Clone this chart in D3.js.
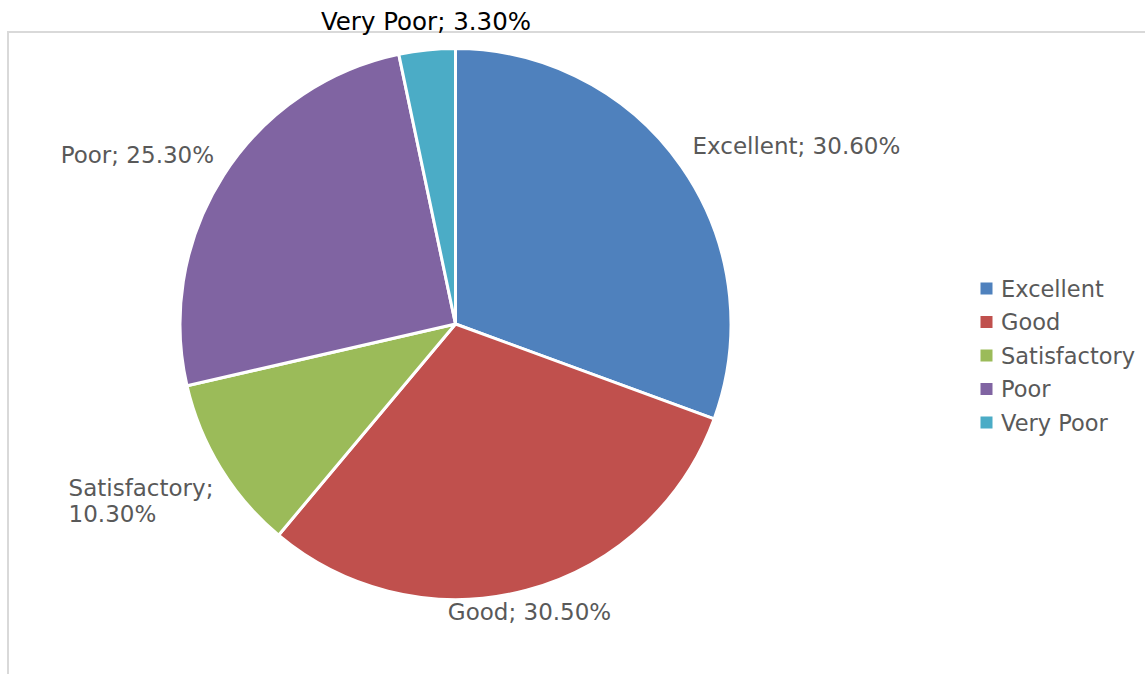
<!DOCTYPE html>
<html>
<head>
<meta charset="utf-8">
<script src="https://cdn.jsdelivr.net/npm/d3@7"></script>
<style>
  html, body { margin: 0; padding: 0; background: #fff; }
  svg { display: block; font-family: "DejaVu Sans", sans-serif; }
</style>
</head>
<body>
<div id="chart"></div>
<script>
const categories = ['Excellent', 'Good', 'Satisfactory', 'Poor', 'Very Poor'];
const values = [30.6, 30.5, 10.3, 25.3, 3.3];
const colors = ['#4F81BD', '#C0504D', '#9BBB59', '#8064A2', '#4BACC6'];

// label nudges from the slice's outer edge (Excel "best fit" placement)
const labelOffsets = [[115, -21], [3, 22], [-81, 32], [-86, -21], [-1, -29]];
const labelLines = [1, 1, 2, 1, 1];

const width = 1145;
const height = 674;
const cx = 455.5;
const cy = 324;
const radius = 275.5;

const svg = d3.select('#chart')
  .append('svg')
    .attr('width', width)
    .attr('height', height);

// chart area border (only top and left visible)
svg.append('path')
  .attr('d', `M8,${height} L8,32 L${width},32`)
  .attr('fill', 'none')
  .attr('stroke', '#d9d9d9')
  .attr('stroke-width', 2);

const data = categories.map((c, i) => ({ name: c, value: values[i], i }));

const pie = d3.pie()
  .value(d => d.value)
  .sort(null);

const arc = d3.arc().innerRadius(0).outerRadius(radius);
const edge = d3.arc().innerRadius(radius).outerRadius(radius);

const arcs = pie(data);

const g = svg.append('g')
  .attr('transform', `translate(${cx}, ${cy})`);

g.selectAll('path.slice')
  .data(arcs)
  .join('path')
    .attr('class', 'slice')
    .attr('d', arc)
    .attr('fill', d => colors[d.data.i])
    .attr('stroke', '#fff')
    .attr('stroke-width', 3)
    .attr('stroke-linejoin', 'round');

const fmt = v => d3.format('.2f')(v) + '%';

const labels = g.selectAll('text.label')
  .data(arcs)
  .join('text')
    .attr('class', 'label')
    .attr('text-anchor', d => labelLines[d.data.i] > 1 ? 'start' : 'middle')
    .attr('font-size', d => d.data.name === 'Very Poor' ? 24.5 : 23)
    .attr('fill', d => d.data.name === 'Very Poor' ? '#000' : '#595959')
    .attr('transform', d => {
      const [x, y] = edge.centroid(d);
      const [dx, dy] = labelOffsets[d.data.i];
      return `translate(${x + dx}, ${y + dy})`;
    });

labels.each(function (d) {
  const t = d3.select(this);
  const text = `${d.data.name}; ${fmt(d.data.value)}`;
  if (labelLines[d.data.i] > 1) {
    t.append('tspan').attr('x', -71).attr('dy', '-0.18em').text(`${d.data.name};`);
    t.append('tspan').attr('x', -71).attr('dy', '1.15em').text(fmt(d.data.value));
  } else {
    t.attr('dy', '0.36em').text(text);
  }
});

// legend
const legendY = d3.scalePoint()
  .domain(categories)
  .range([288.5, 422.5]);

const legend = svg.append('g')
  .selectAll('g')
  .data(categories)
  .join('g')
    .attr('transform', d => `translate(980.5, ${legendY(d)})`);

legend.append('rect')
  .attr('x', 0)
  .attr('y', -6)
  .attr('width', 12)
  .attr('height', 12)
  .attr('fill', (d, i) => colors[i]);

legend.append('text')
  .attr('x', 20.5)
  .attr('dy', '0.36em')
  .attr('font-size', 22.5)
  .attr('fill', '#595959')
  .text(d => d);
</script>
</body>
</html>
